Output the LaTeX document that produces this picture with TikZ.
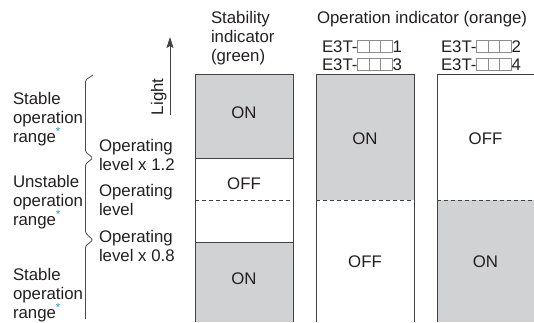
\documentclass[tikz,border=0pt]{standalone}
\usepackage{fontspec}
\setmainfont{Liberation Sans}
\usetikzlibrary{arrows.meta}
\definecolor{ink}{HTML}{231F20}
\definecolor{panel}{HTML}{D1D2D4}
\definecolor{starblue}{HTML}{2A9DE0}
\newcommand\tribox{\tikz[baseline=0pt,x=1pt,y=1pt]{\draw[line width=0.6pt,black!45] (0,0) rectangle (34.5,12) (11.5,0)--(11.5,12) (23,0)--(23,12);}}
\newcommand\bluestar{\textsuperscript{\textcolor{starblue}{*}}}
\tikzset{
  lbl/.style={inner sep=0pt, outer sep=0pt, text=ink, font=\fontsize{16.8}{19}\selectfont, anchor=base west},
  state/.style={inner sep=0pt, outer sep=0pt, text=ink, font=\fontsize{16.8}{19}\selectfont, anchor=base},
  border/.style={draw=ink!85, line width=0.9pt},
  divider/.style={draw=ink!85, line width=0.8pt, dash pattern=on 4pt off 3pt},
  bracket/.style={draw=ink!80, line width=0.8pt, rounded corners=1.5pt},
}
\begin{document}
\begin{tikzpicture}[x=1pt,y=-1pt]
\useasboundingbox (0,0) rectangle (534,322);
% fills
\fill[panel] (195,74) rectangle (293,158);
\fill[panel] (195,242) rectangle (293,322);
\fill[panel] (316,74) rectangle (414,200);
\fill[panel] (437,200) rectangle (534,322);
% column 1
\draw[border] (195,322) -- (195,74) -- (293,74) -- (293,322);
\draw[border] (195,158) -- (293,158);
\draw[border] (195,242) -- (293,242);
\draw[divider] (195,200) -- (293,200);
% column 2
\draw[border] (316,322) -- (316,74) -- (414,74) -- (414,322);
\draw[divider] (316,200) -- (414,200);
% column 3
\draw[border] (437,322) -- (437,74) -- (534,74);
\draw[divider] (437,200) -- (534,200);
% states
\node[state] (s1on)  at (244,118) {ON};
\node[state] (s1off) at (244,189) {OFF};
\node[state] (s1on2) at (244,284) {ON};
\node[state] (s2on)  at (365,144) {ON};
\node[state] (s2off) at (365,267) {OFF};
\node[state] (s3off) at (485.5,144) {OFF};
\node[state] (s3on)  at (485.5,267) {ON};
% headers
\node[lbl] (h1a) at (211,23) {Stability};
\node[lbl] (h1b) at (211,42) {indicator};
\node[lbl] (h1c) at (211,61) {(green)};
\node[lbl] (h2)  at (317,23) {Operation indicator (orange)};
\node[lbl] (m1) at (322,52.5) {E3T-\tribox1};
\node[lbl] (m3) at (322,70) {E3T-\tribox3};
\node[lbl] (m2) at (441,52.5) {E3T-\tribox2};
\node[lbl] (m4) at (441,70) {E3T-\tribox4};
% light arrow
\coordinate (lbot) at (170,115);
\coordinate (ltop) at (170,37);
\draw[draw=ink!85, line width=0.8pt, -{Stealth[length=11pt,width=7pt,inset=2pt]}] (lbot) -- (ltop);
\node[lbl, rotate=90] (light) at (163,115) {Light};
% brackets
\draw[bracket] (93,75) -- (85.5,80) -- (85.5,152) -- (93,158) -- (85.5,164) -- (85.5,233) -- (93,240) -- (85.5,246) -- (85.5,319);
% left labels
\node[lbl] (a1) at (13,104) {Stable};
\node[lbl] (a2) at (13,123) {operation};
\node[lbl] (a3) at (13,142) {range\bluestar};
\node[lbl] (b1) at (13,187) {Unstable};
\node[lbl] (b2) at (13,206) {operation};
\node[lbl] (b3) at (13,225) {range\bluestar};
\node[lbl] (c1) at (13,280) {Stable};
\node[lbl] (c2) at (13,299) {operation};
\node[lbl] (c3) at (13,318) {range\bluestar};
% operating levels
\node[lbl] (o1) at (99,151) {Operating};
\node[lbl] (o2) at (99,170) {level x 1.2};
\node[lbl] (o3) at (99,196) {Operating};
\node[lbl] (o4) at (99,215) {level};
\node[lbl] (o5) at (99,242) {Operating};
\node[lbl] (o6) at (99,261) {level x 0.8};
\end{tikzpicture}
\end{document}
